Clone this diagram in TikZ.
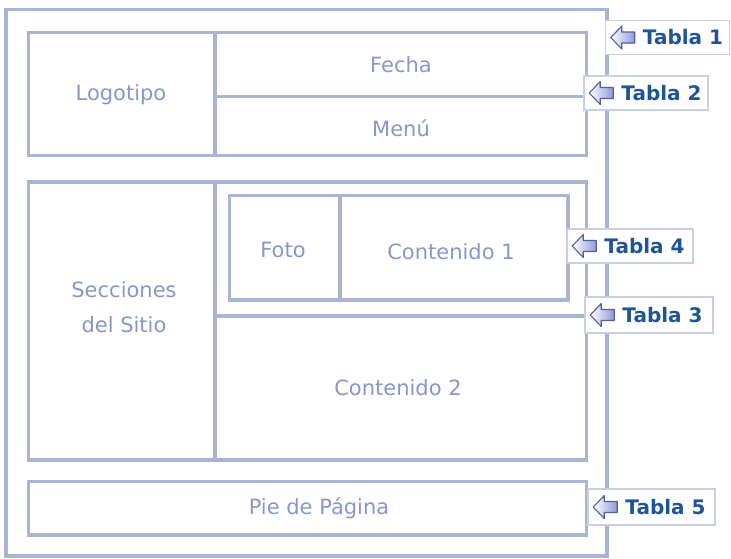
\documentclass[tikz,border=0pt]{standalone}
\usepackage{fontspec}
\setmainfont{DejaVu Sans}
\usepackage{tikz}
\usetikzlibrary{positioning}
\definecolor{marco}{HTML}{A9B3D6}
\definecolor{gris}{HTML}{8797C8}
\definecolor{azul}{HTML}{1F5496}
\definecolor{borde}{HTML}{C8CEE6}
\definecolor{flechaborde}{HTML}{4F6196}
\newcommand{\flecha}[1]{%
\draw [flechaborde, line width=1.1pt, line join=round, left color=white, right color=marco!85!blue]
([xshift=6pt]#1.west) -- ++(11,-11.5) -- ++(0,6) -- ++(13,0) -- ++(0,11)
-- ++(-13,0) -- ++(0,6) -- cycle;}
\begin{document}
\begin{tikzpicture}[x=1pt, y=-1pt,
marco/.style={draw=marco, line width=3.3pt},
celda/.style={text=gris, font=\fontsize{21}{35}\selectfont, align=center},
etiqueta/.style={draw=borde, line width=1.5pt, fill=white, minimum width=124pt,
minimum height=34pt, inner sep=0pt},
tabla/.style={text=azul, font=\fontsize{20}{23}\selectfont\bfseries, inner sep=0pt, anchor=west}]
\useasboundingbox (0,0) rectangle (731,558);
\draw [marco] (6,9.5) rectangle (607,556);
\draw [marco] (28.5,32.5) rectangle (586.5,155.5) (215,32.5) -- (215,155.5)
(215,96.5) -- (586.5,96.5);
\draw [marco] (28.5,182) rectangle (586.5,460) (215,182) -- (215,460)
(215,316) -- (586.5,316);
\draw [marco] (229.5,195.5) rectangle (568,300) (340,195.5) -- (340,300);
\draw [marco] (28.5,481.5) rectangle (586.5,535);
\node [celda] (logo) at (121,95) {Logotipo};
\node [celda] (fecha) at (401,65) {Fecha};
\node [celda] (menu) at (401,128) {Menú};
\node [celda] (secciones) at (124,307) {Secciones\\del Sitio};
\node [celda] (foto) at (283,250) {Foto};
\node [celda] (cont1) at (451,252) {Contenido 1};
\node [celda] (cont2) at (398,388) {Contenido 2};
\node [celda] (pie) at (319,508) {Pie de Página};
\node [etiqueta] (t1) at (667.5,37.5) {};
\node [etiqueta] (t2) at (646,93) {};
\node [etiqueta, minimum width=126pt] (t4) at (630,246) {};
\node [etiqueta, minimum width=128pt, minimum height=36pt] (t3) at (649,315) {};
\node [etiqueta, minimum width=127pt, minimum height=36pt] (t5) at (651.5,507) {};
\foreach \t/\n in {t1/1,t2/2,t3/3,t4/4,t5/5}{
\flecha{\t}
\node [tabla] (\t txt) at ([xshift=38pt]\t.west) {Tabla \n};
}
\end{tikzpicture}
\end{document}
